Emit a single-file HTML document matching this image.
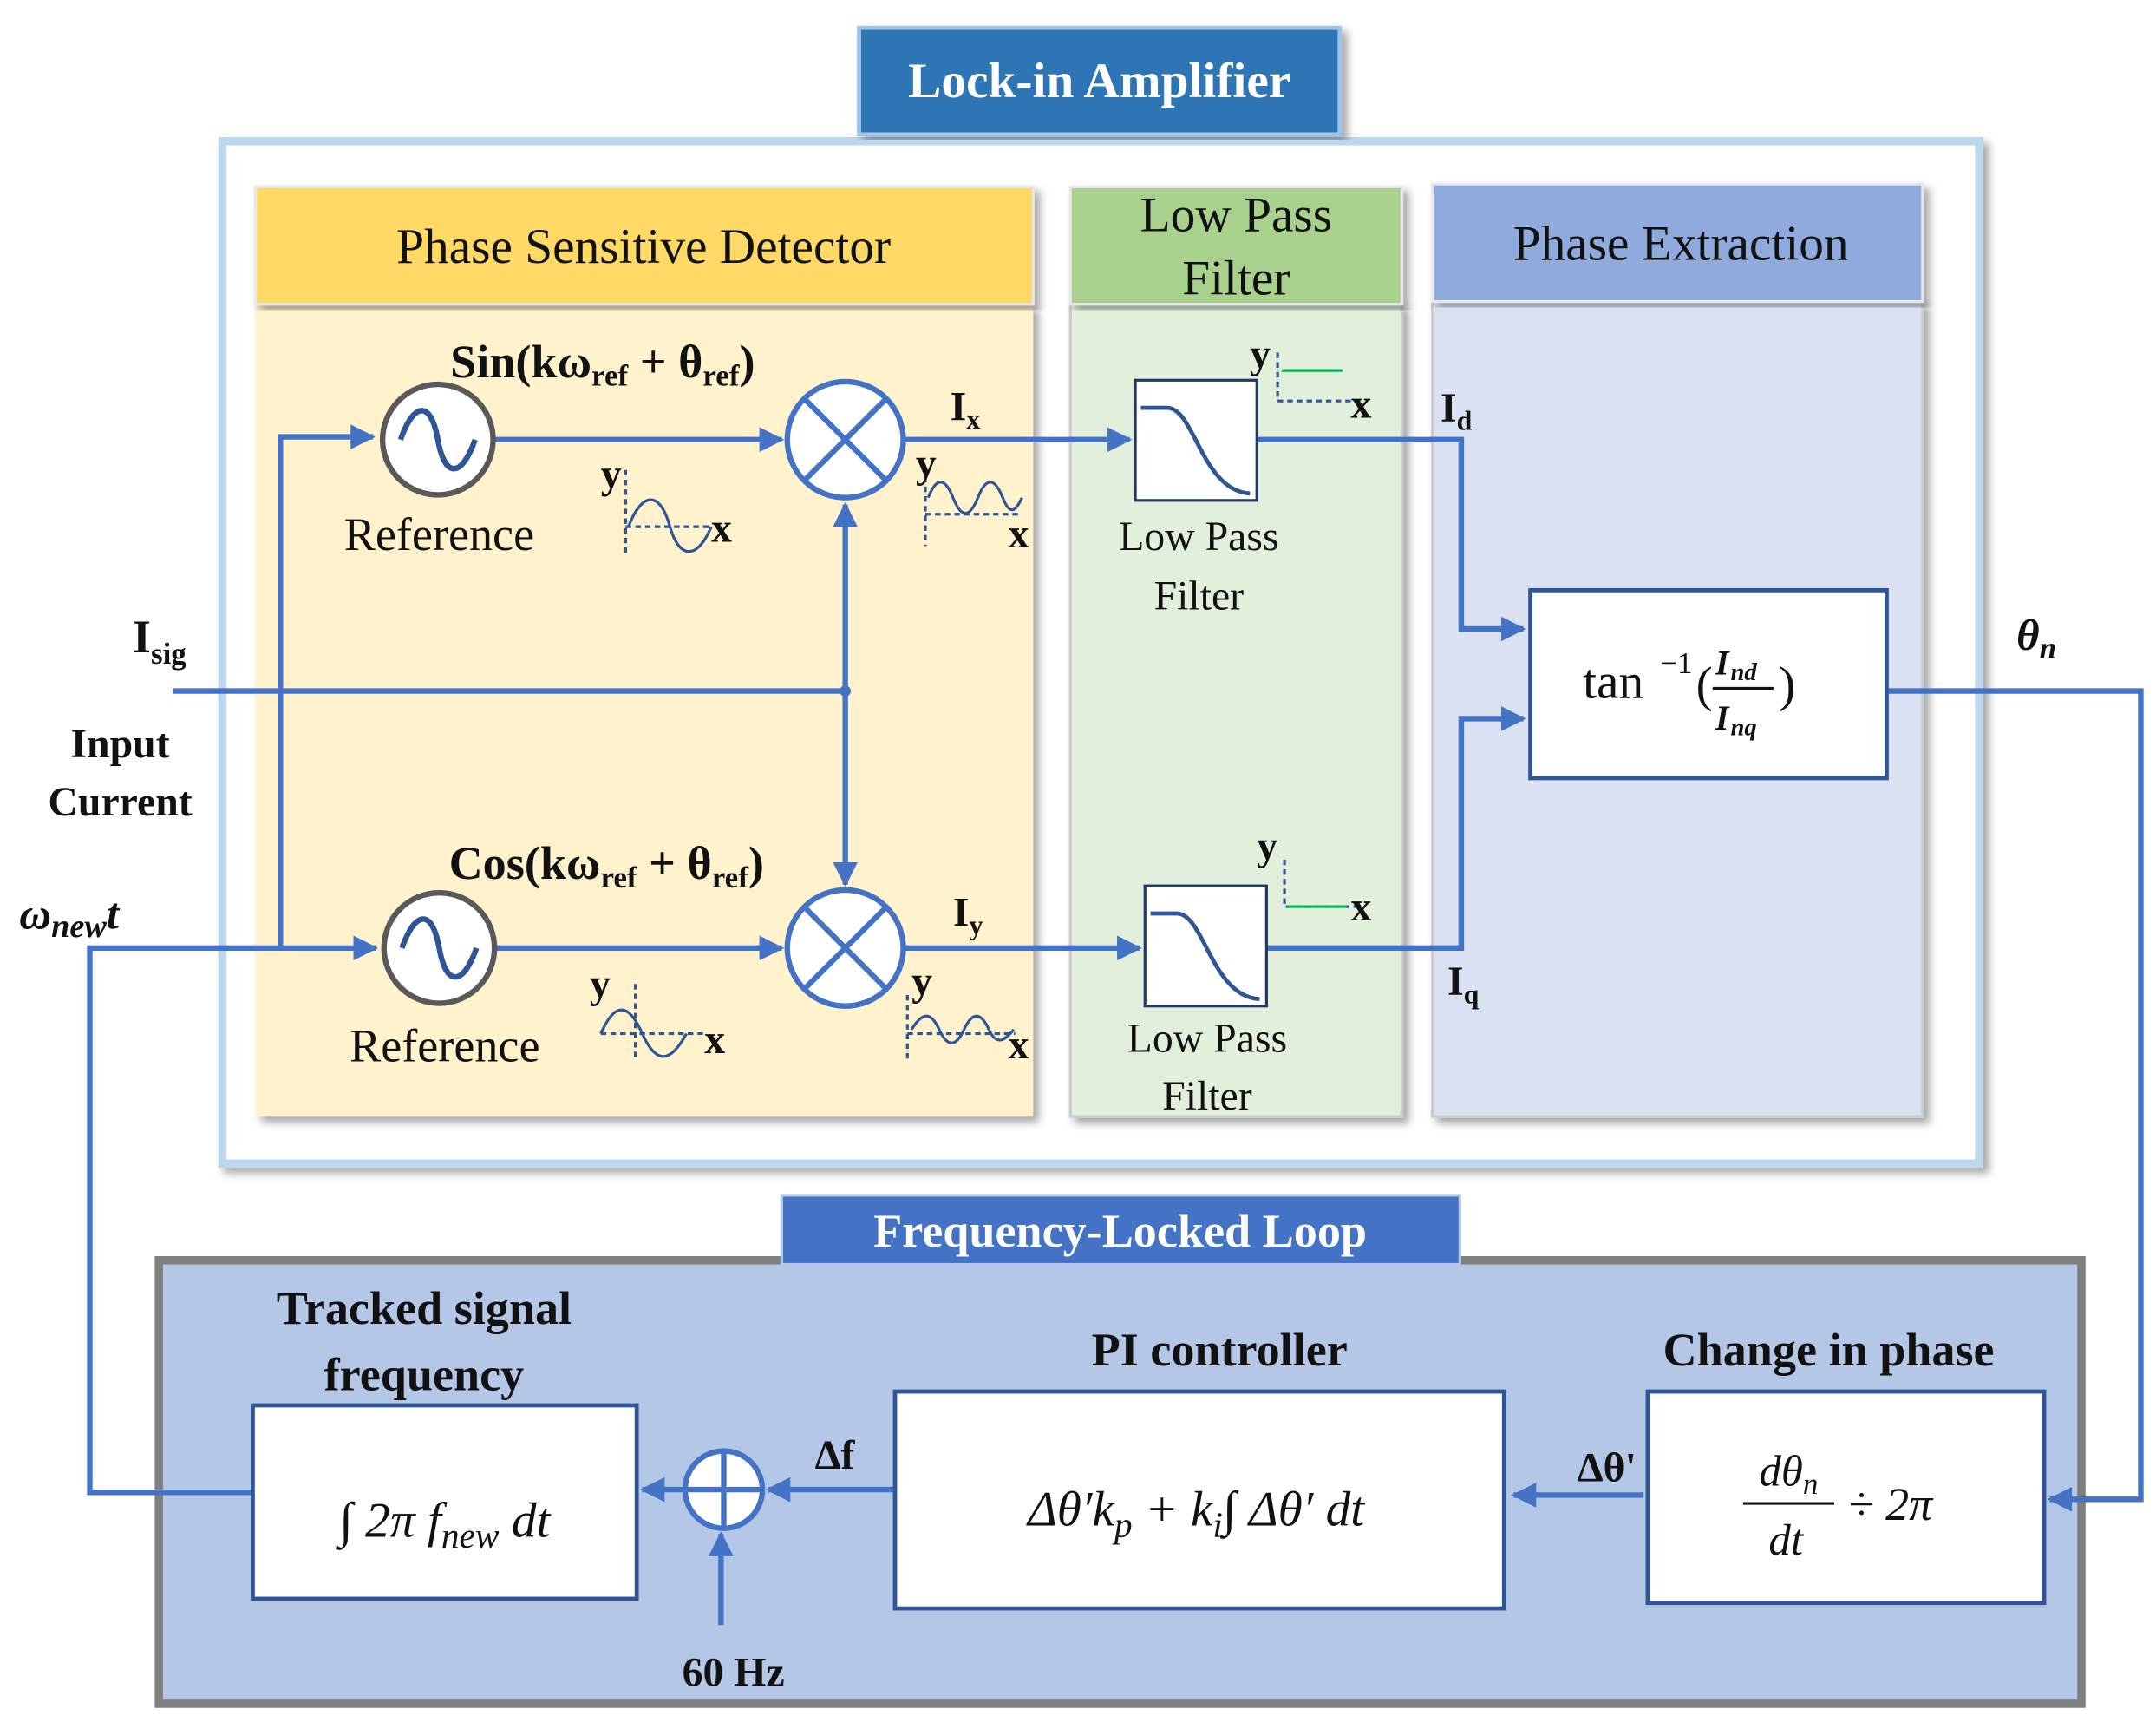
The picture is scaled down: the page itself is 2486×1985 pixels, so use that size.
<!DOCTYPE html>
<html><head><meta charset="utf-8"><style>
html,body{margin:0;padding:0;background:#fff;}
svg{display:block;}
text{font-family:"Liberation Serif",serif;fill:#111;}
.b{font-weight:bold;}
</style></head><body>
<svg width="2486" height="1985" viewBox="0 0 1561 1246" xmlns="http://www.w3.org/2000/svg">
<defs>
<marker id="a" viewBox="0 0 10 10" refX="9" refY="5" markerWidth="4.5" markerHeight="4.5" orient="auto-start-reverse" markerUnits="strokeWidth"><path d="M0,0 L10,5 L0,10 z" fill="#4472c4"/></marker>
<filter id="sh" x="-5%" y="-5%" width="110%" height="110%"><feDropShadow dx="4" dy="4" stdDeviation="3" flood-color="#000" flood-opacity="0.35"/></filter>
</defs>
<rect width="1561" height="1246" fill="#fff"/>
<rect x="161" y="102" width="1272" height="740" fill="#fff" stroke="#bdd7ee" stroke-width="6" filter="url(#sh)"/>
<rect x="622" y="20" width="348" height="77" fill="#2e75b6" stroke="#9dc3e6" stroke-width="3" filter="url(#sh)"/>
<text x="796" y="70" font-size="36" class="b" text-anchor="middle" style="fill:#fff">Lock-in Amplifier</text>
<rect x="185" y="220" width="563" height="588" fill="#fff2cc" filter="url(#sh)"/>
<rect x="185" y="135" width="563" height="85" fill="#ffd966" stroke="#e8e8e8" stroke-width="2" filter="url(#sh)"/>
<text x="466" y="190" font-size="36" text-anchor="middle">Phase Sensitive Detector</text>
<rect x="775" y="220" width="240" height="588" fill="#e2efda" stroke="#ccc" stroke-width="2" filter="url(#sh)"/>
<rect x="775" y="135" width="240" height="85" fill="#a9d18e" stroke="#e8e8e8" stroke-width="2" filter="url(#sh)"/>
<text x="895" y="167" font-size="36" text-anchor="middle">Low Pass</text>
<text x="895" y="213" font-size="36" text-anchor="middle">Filter</text>
<rect x="1037" y="218" width="355" height="590" fill="#d9e1f2" stroke="#ccc" stroke-width="2" filter="url(#sh)"/>
<rect x="1037" y="133" width="355" height="85" fill="#8faadc" stroke="#e8e8e8" stroke-width="2" filter="url(#sh)"/>
<text x="1217" y="188" font-size="36" text-anchor="middle">Phase Extraction</text>
<rect x="115" y="912" width="1392" height="321" fill="#b4c7e7" stroke="#7f7f7f" stroke-width="6"/>
<rect x="566" y="865" width="491" height="50" fill="#4472c4" stroke="#b4c7e7" stroke-width="2"/>
<text x="811" y="902" font-size="34" class="b" text-anchor="middle" style="fill:#fff">Frequency-Locked Loop</text>

<g stroke="#4472c4" stroke-width="4" fill="none">
<path d="M125,500 H612"/>
<path d="M612,500 V365" marker-end="url(#a)"/>
<path d="M612,500 V640" marker-end="url(#a)"/>
<path d="M203,686 V316 H270" marker-end="url(#a)"/>
<path d="M183,1080 H65 V686 H272" marker-end="url(#a)"/>
<path d="M357,318 H566" marker-end="url(#a)"/>
<path d="M358,686 H566" marker-end="url(#a)"/>
<path d="M654,318 H818" marker-end="url(#a)"/>
<path d="M654,686 H825" marker-end="url(#a)"/>
<path d="M910,318 H1058 V455 H1103" marker-end="url(#a)"/>
<path d="M917,686 H1058 V520 H1103" marker-end="url(#a)"/>
<path d="M1366,500 H1550 V1085 H1484" marker-end="url(#a)"/>
<path d="M1190,1082 H1096" marker-end="url(#a)"/>
<path d="M648,1078 H556" marker-end="url(#a)"/>
<path d="M496,1078 H465" marker-end="url(#a)"/>
<path d="M522,1176 V1110" marker-end="url(#a)"/>
</g>
<circle cx="612" cy="500" r="4" fill="#4472c4"/>
<g stroke="#595959" stroke-width="4" fill="#fff">
<circle cx="317" cy="318" r="40"/><circle cx="318" cy="686" r="40"/>
</g>
<g stroke="#2f5597" stroke-width="4" fill="none">
<path d="M290,318 C300,290 312,290 317,318 C322,346 334,346 344,318"/>
<path d="M291,686 C301,658 313,658 318,686 C323,714 335,714 345,686"/>
</g>
<g stroke="#4472c4" stroke-width="4" fill="#fff">
<circle cx="612" cy="318" r="42"/><circle cx="612" cy="686" r="42"/>
<path d="M582,288 L642,348 M642,288 L582,348"/>
<path d="M582,656 L642,716 M642,656 L582,716"/>
</g>
<g stroke="#1f3864" stroke-width="2" fill="#fff">
<rect x="822" y="275" width="88" height="87"/><rect x="829" y="641" width="88" height="87"/>
</g>
<g stroke="#2f5597" stroke-width="3" fill="none">
<path d="M826,295 H845 C865,295 870,355 905,357"/>
<path d="M833,661 H852 C872,661 877,721 912,723"/>
</g>
<rect x="1108" y="427" width="258" height="136" fill="#fff" stroke="#2f5597" stroke-width="3"/>
<text x="1146" y="505" font-size="36" font-family="Liberation Sans">tan</text>
<text x="1202" y="487" font-size="22">−1</text>
<text x="1228" y="507" font-size="36">(</text>
<text x="1242" y="488" font-size="25" font-style="italic" class="b">I</text><text x="1253" y="492" font-size="18" font-style="italic" class="b">nd</text>
<line x1="1240" y1="498" x2="1284" y2="498" stroke="#111" stroke-width="2"/>
<text x="1242" y="528" font-size="25" font-style="italic" class="b">I</text><text x="1253" y="532" font-size="18" font-style="italic" class="b">nq</text>
<text x="1288" y="507" font-size="36">)</text>
<g fill="#fff" stroke="#2f5597" stroke-width="3">
<rect x="183" y="1017" width="278" height="140"/>
<rect x="648" y="1007" width="441" height="157"/>
<rect x="1193" y="1007" width="287" height="153"/>
</g>
<circle cx="524" cy="1078" r="28" fill="#fff" stroke="#4472c4" stroke-width="4"/>
<path d="M496,1078 H552 M524,1050 V1106" stroke="#4472c4" stroke-width="4"/>
<g stroke="#2f5597" stroke-width="2" fill="none">
<path d="M453,340 V400 M453,381 H515" stroke-dasharray="4,3"/>
<path d="M455,381 C465,355 478,355 485,381 C492,405 505,405 515,381"/>
<path d="M670,345 V395 M670,372 H738" stroke-dasharray="4,3"/>
<path d="M672,360 C678,345 684,345 690,360 C696,375 702,375 708,360 C714,345 720,345 726,360 C732,375 736,368 740,360"/>
<path d="M925,255 V290 H985" stroke-dasharray="4,3"/>
<path d="M460,712 V768 M435,748 H512" stroke-dasharray="4,3"/>
<path d="M435,748 C445,725 455,725 465,748 C475,770 485,770 497,748"/>
<path d="M657,720 V768 M657,748 H735" stroke-dasharray="4,3"/>
<path d="M660,745 C668,732 674,732 680,745 C686,758 692,758 698,745 C704,732 710,732 716,745 C722,758 728,752 734,745"/>
<path d="M930,622 V656 H985" stroke-dasharray="4,3"/>
</g>
<path d="M928,268 H972" stroke="#00b050" stroke-width="2"/>
<path d="M932,656 H975" stroke="#00b050" stroke-width="2"/>
<g font-size="30">
<text x="435" y="353" class="b">y</text><text x="515" y="392" class="b">x</text>
<text x="663" y="345" class="b">y</text><text x="730" y="396" class="b">x</text>
<text x="905" y="266" class="b">y</text><text x="978" y="302" class="b">x</text>
<text x="427" y="722" class="b">y</text><text x="510" y="762" class="b">x</text>
<text x="660" y="720" class="b">y</text><text x="730" y="766" class="b">x</text>
<text x="910" y="622" class="b">y</text><text x="978" y="666" class="b">x</text>
</g>
<text x="326" y="273" font-size="34" class="b">Sin(kω<tspan font-size="22" dy="6">ref</tspan><tspan dy="-6"> + θ</tspan><tspan font-size="22" dy="6">ref</tspan><tspan dy="-6">)</tspan></text>
<text x="325" y="636" font-size="34" class="b">Cos(kω<tspan font-size="22" dy="6">ref</tspan><tspan dy="-6"> + θ</tspan><tspan font-size="22" dy="6">ref</tspan><tspan dy="-6">)</tspan></text>
<text x="318" y="398" font-size="34" text-anchor="middle">Reference</text>
<text x="322" y="768" font-size="34" text-anchor="middle">Reference</text>
<text x="868" y="398" font-size="30" text-anchor="middle">Low Pass</text>
<text x="868" y="441" font-size="30" text-anchor="middle">Filter</text>
<text x="874" y="761" font-size="30" text-anchor="middle">Low Pass</text>
<text x="874" y="803" font-size="30" text-anchor="middle">Filter</text>
<text x="688" y="304" font-size="30" class="b">I<tspan font-size="20" dy="6">x</tspan></text>
<text x="690" y="670" font-size="30" class="b">I<tspan font-size="20" dy="6">y</tspan></text>
<text x="1043" y="305" font-size="30" class="b">I<tspan font-size="20" dy="6">d</tspan></text>
<text x="1048" y="720" font-size="30" class="b">I<tspan font-size="20" dy="6">q</tspan></text>
<text x="96" y="472" font-size="34" class="b">I<tspan font-size="22" dy="8">sig</tspan></text>
<text x="87" y="548" font-size="30" class="b" text-anchor="middle">Input</text>
<text x="87" y="590" font-size="30" class="b" text-anchor="middle">Current</text>
<text x="14" y="672" font-size="32" class="b" font-style="italic">ω<tspan font-size="24" dy="6">new</tspan><tspan dy="-6">t</tspan></text>
<text x="1460" y="470" font-size="32" class="b" font-style="italic">θ<tspan font-size="22" dy="6">n</tspan></text>
<text x="307" y="958" font-size="34" class="b" text-anchor="middle">Tracked signal</text>
<text x="307" y="1006" font-size="34" class="b" text-anchor="middle">frequency</text>
<text x="883" y="988" font-size="34" class="b" text-anchor="middle">PI controller</text>
<text x="1324" y="988" font-size="34" class="b" text-anchor="middle">Change in phase</text>
<text x="590" y="1063" font-size="30" class="b">Δf</text>
<text x="1142" y="1072" font-size="30" class="b">Δθ'</text>
<text x="531" y="1220" font-size="30" class="b" text-anchor="middle">60 Hz</text>
<text x="322" y="1112" font-size="36" font-style="italic" text-anchor="middle">∫ 2π f<tspan font-size="26" dy="8">new</tspan><tspan dy="-8"> dt</tspan></text>
<text x="866" y="1104" font-size="36" font-style="italic" text-anchor="middle">Δθ′k<tspan font-size="26" dy="8">p</tspan><tspan dy="-8"> + k</tspan><tspan font-size="26" dy="8">i</tspan><tspan dy="-8">∫ Δθ′ dt</tspan></text>
<text x="1295" y="1075" font-size="32" font-style="italic" text-anchor="middle">dθ<tspan font-size="22" dy="6">n</tspan></text>
<line x1="1262" y1="1088" x2="1328" y2="1088" stroke="#111" stroke-width="2"/>
<text x="1293" y="1125" font-size="32" font-style="italic" text-anchor="middle">dt</text>
<text x="1338" y="1100" font-size="34" font-style="italic">÷ 2π</text>
</svg>
</body></html>
